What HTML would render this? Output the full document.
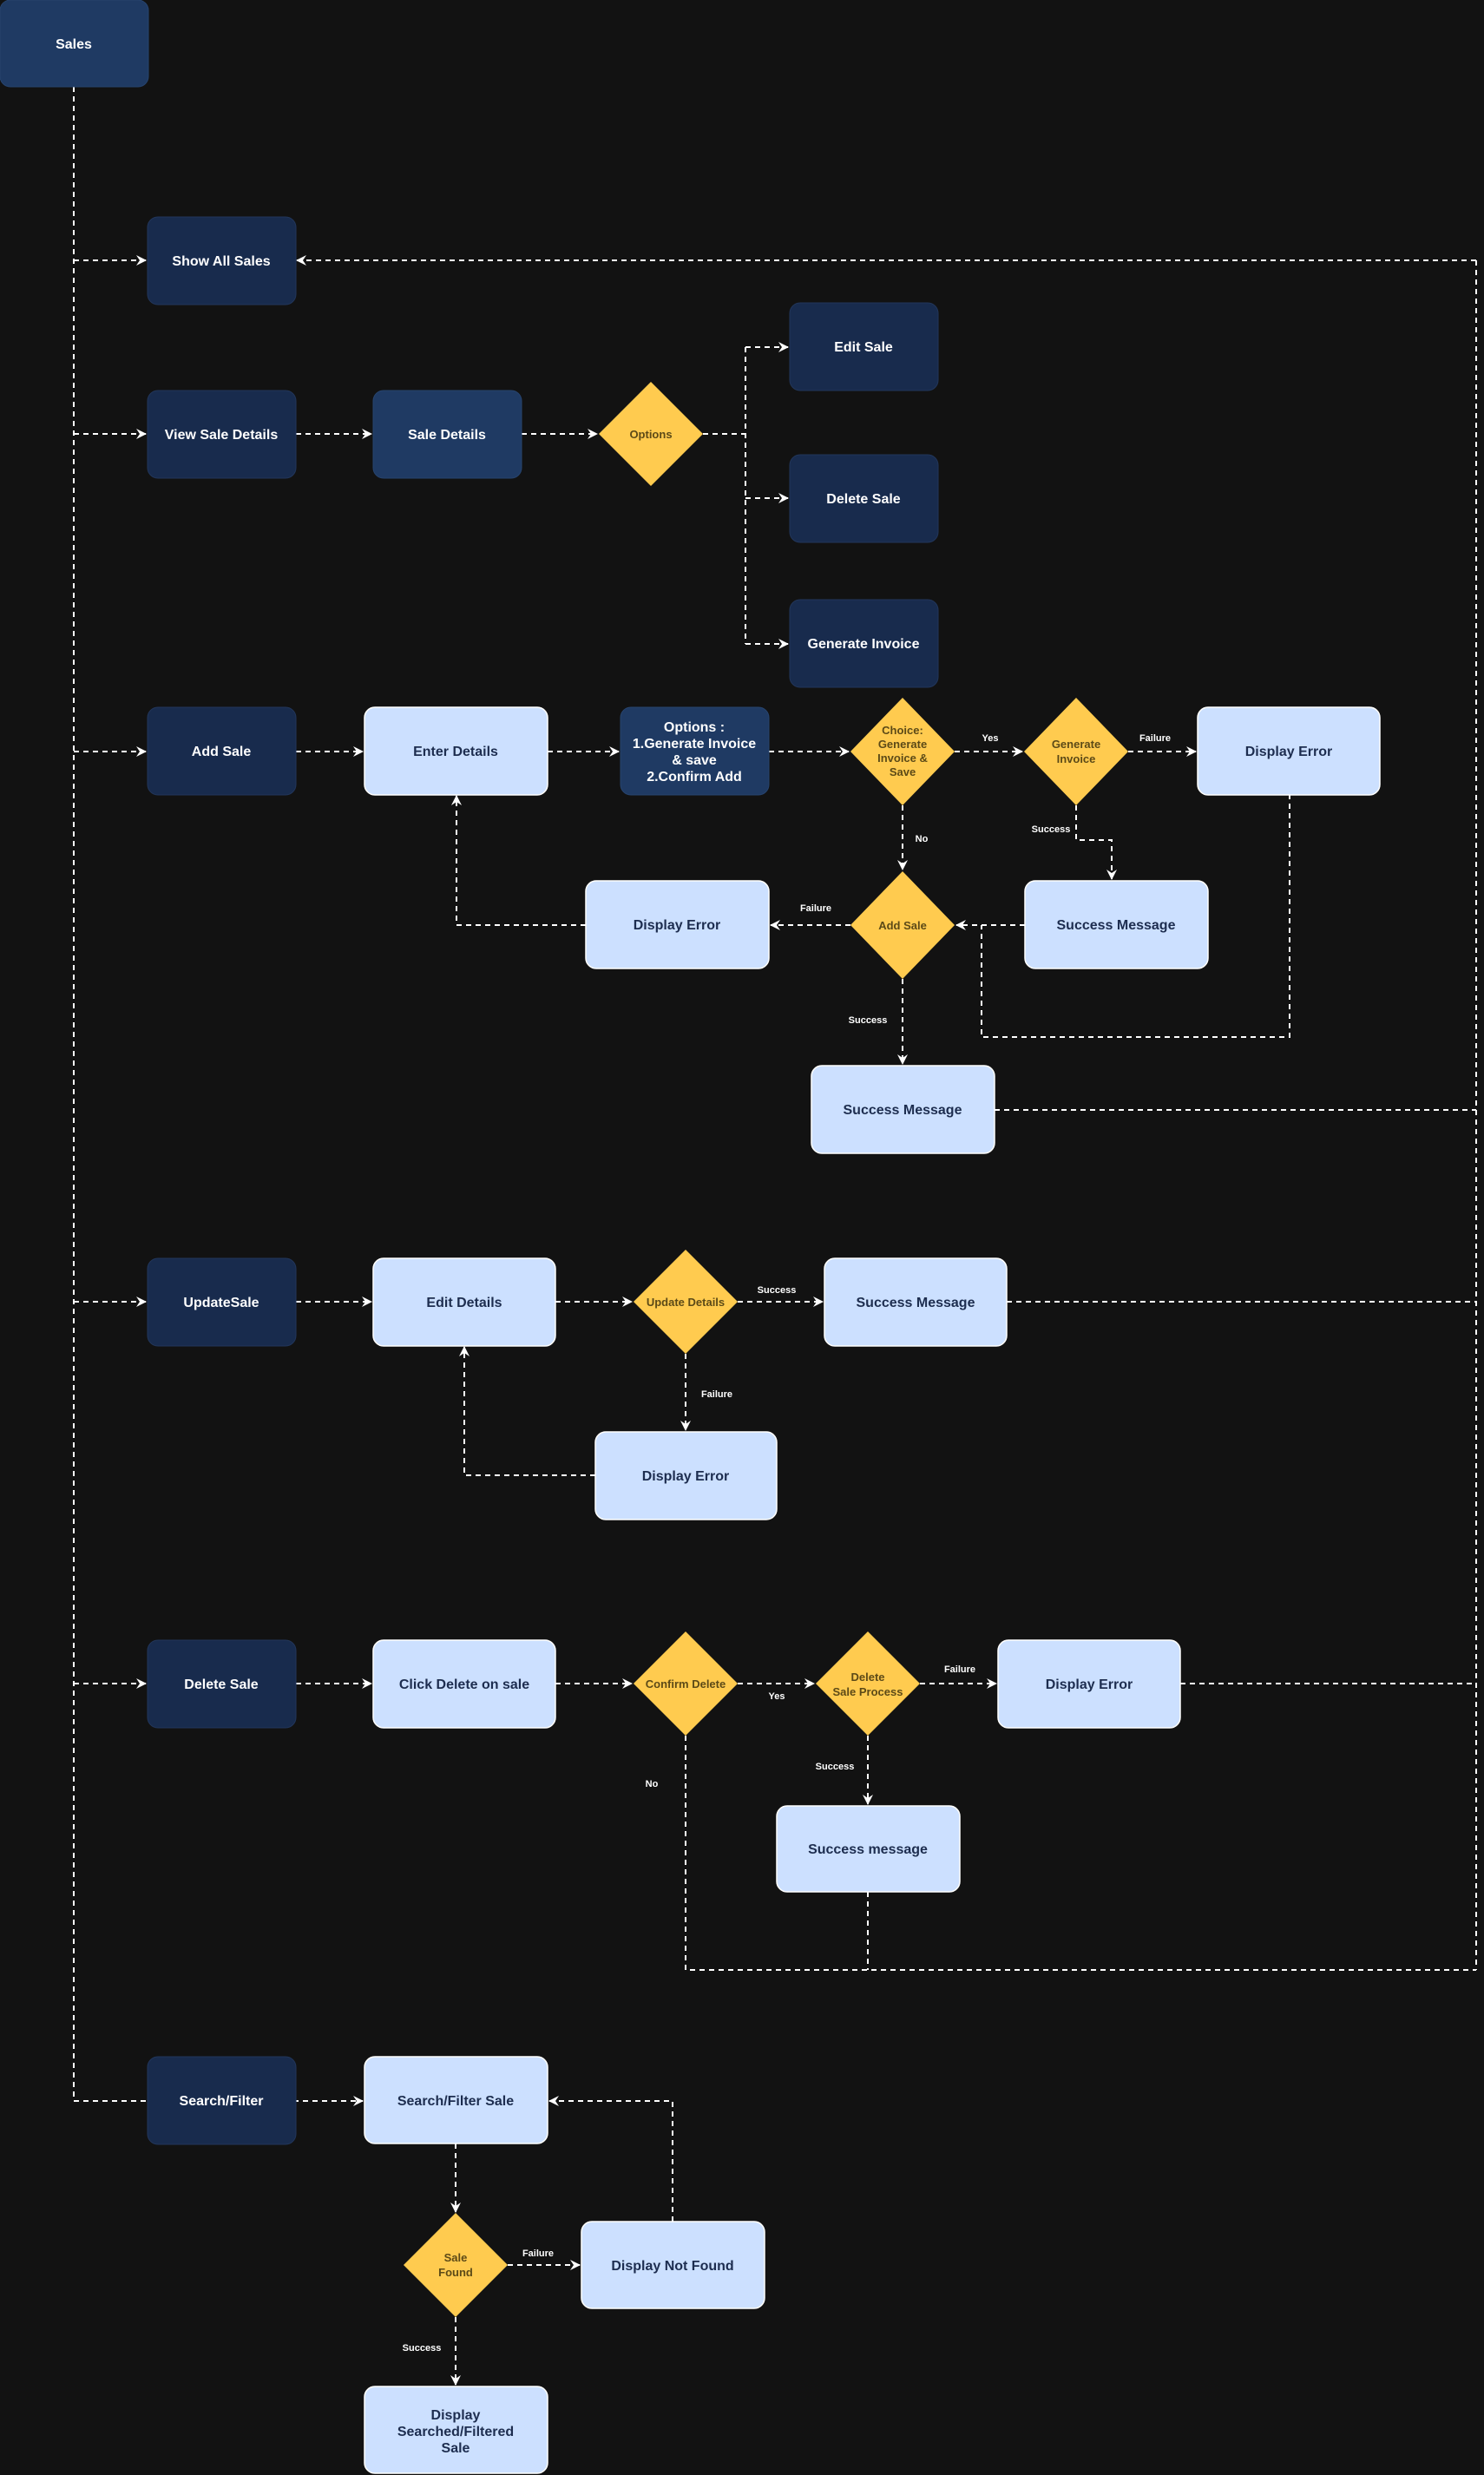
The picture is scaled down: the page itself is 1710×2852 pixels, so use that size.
<!DOCTYPE html>
<html><head><meta charset="utf-8"><style>
html,body{margin:0;padding:0;background:#121212;}
svg{display:block;}
text{font-family:"Liberation Sans",sans-serif;}
.bt{font-size:16px;font-weight:bold;fill:#ffffff;text-anchor:middle;}
.lt{font-size:16px;font-weight:bold;fill:#1d2d4f;text-anchor:middle;}
.dt{font-size:13px;font-weight:bold;fill:#5c4a17;text-anchor:middle;}
.lb{font-size:11px;font-weight:bold;fill:#ffffff;text-anchor:middle;}
.ln{fill:none;stroke:#ffffff;stroke-width:2;stroke-dasharray:6 5;}
.d1{fill:#182b4d;stroke:#22365a;}
.d2{fill:#1f3a63;stroke:#27446e;}
.l{fill:#cce0ff;stroke:#ffffff;stroke-width:1.5;}
.y{fill:#ffcb4f;}
</style></head><body>
<svg width="1710" height="2852" viewBox="0 0 1710 2852" xmlns="http://www.w3.org/2000/svg">
<defs><marker id="a" viewBox="0 0 12 12" refX="11" refY="6" markerWidth="12" markerHeight="12" markerUnits="userSpaceOnUse" orient="auto"><path d="M0,0 L12,6 L0,12 L4,6 Z" fill="#fff"/></marker></defs>

<!-- connectors -->
<path class="ln" d="M85,100 V2421"/>
<path class="ln" d="M85,300 H168" marker-end="url(#a)"/>
<path class="ln" d="M85,500 H168" marker-end="url(#a)"/>
<path class="ln" d="M85,866 H168" marker-end="url(#a)"/>
<path class="ln" d="M85,1500 H168" marker-end="url(#a)"/>
<path class="ln" d="M85,1940 H168" marker-end="url(#a)"/>
<path class="ln" d="M85,2421 H418" marker-end="url(#a)"/>
<path class="ln" d="M1701,300 H342" marker-end="url(#a)"/>
<path class="ln" d="M1701,300 V2270"/>
<path class="ln" d="M341,500 H428" marker-end="url(#a)"/>
<path class="ln" d="M601,500 H688" marker-end="url(#a)"/>
<path class="ln" d="M810,500 H859"/>
<path class="ln" d="M859,400 V742"/>
<path class="ln" d="M859,400 H908" marker-end="url(#a)"/>
<path class="ln" d="M859,574 H908" marker-end="url(#a)"/>
<path class="ln" d="M859,742 H908" marker-end="url(#a)"/>
<path class="ln" d="M341,866 H418" marker-end="url(#a)"/>
<path class="ln" d="M631,866 H713" marker-end="url(#a)"/>
<path class="ln" d="M886,866 H978" marker-end="url(#a)"/>
<path class="ln" d="M1100,866 H1178" marker-end="url(#a)"/>
<path class="ln" d="M1300,866 H1378" marker-end="url(#a)"/>
<path class="ln" d="M1040,928 V1002" marker-end="url(#a)"/>
<path class="ln" d="M1240,928 V968 H1281 V1013" marker-end="url(#a)"/>
<path class="ln" d="M1181,1066 H1102" marker-end="url(#a)"/>
<path class="ln" d="M1486,915 V1195 H1131 V1066"/>
<path class="ln" d="M980,1066 H888" marker-end="url(#a)"/>
<path class="ln" d="M675,1066 H526 V917" marker-end="url(#a)"/>
<path class="ln" d="M1040,1128 V1226" marker-end="url(#a)"/>
<path class="ln" d="M1146,1279 H1701"/>
<path class="ln" d="M341,1500 H428" marker-end="url(#a)"/>
<path class="ln" d="M640,1500 H728" marker-end="url(#a)"/>
<path class="ln" d="M850,1500 H948" marker-end="url(#a)"/>
<path class="ln" d="M1160,1500 H1701"/>
<path class="ln" d="M790,1560 V1648" marker-end="url(#a)"/>
<path class="ln" d="M686,1700 H535 V1552" marker-end="url(#a)"/>
<path class="ln" d="M341,1940 H428" marker-end="url(#a)"/>
<path class="ln" d="M640,1940 H728" marker-end="url(#a)"/>
<path class="ln" d="M850,1940 H938" marker-end="url(#a)"/>
<path class="ln" d="M1060,1940 H1148" marker-end="url(#a)"/>
<path class="ln" d="M1360,1940 H1701"/>
<path class="ln" d="M1000,2000 V2079" marker-end="url(#a)"/>
<path class="ln" d="M790,2000 V2270 H1701"/>
<path class="ln" d="M1000,2180 V2270"/>
<path class="ln" d="M525,2470 V2549" marker-end="url(#a)"/>
<path class="ln" d="M585,2610 H668" marker-end="url(#a)"/>
<path class="ln" d="M525,2670 V2748" marker-end="url(#a)"/>
<path class="ln" d="M775,2560 V2421 H633" marker-end="url(#a)"/>

<!-- nodes -->
<rect class="d2" x="0" y="0" width="171" height="100" rx="12"/><text class="bt" x="85" y="56">Sales</text>
<rect class="d1" x="170" y="250" width="171" height="101" rx="12"/><text class="bt" x="255" y="306">Show All Sales</text>
<rect class="d1" x="170" y="450" width="171" height="101" rx="12"/><text class="bt" x="255" y="506">View Sale Details</text>
<rect class="d2" x="430" y="450" width="171" height="101" rx="12"/><text class="bt" x="515" y="506">Sale Details</text>
<polygon class="y" points="750,440 810,500 750,560 690,500"/><text class="dt" x="750" y="505">Options</text>
<rect class="d1" x="910" y="349" width="171" height="101" rx="12"/><text class="bt" x="995" y="405">Edit Sale</text>
<rect class="d1" x="910" y="524" width="171" height="101" rx="12"/><text class="bt" x="995" y="580">Delete Sale</text>
<rect class="d1" x="910" y="691" width="171" height="101" rx="12"/><text class="bt" x="995" y="747">Generate Invoice</text>

<rect class="d1" x="170" y="815" width="171" height="101" rx="12"/><text class="bt" x="255" y="871">Add Sale</text>
<rect class="l" x="420" y="815" width="211" height="101" rx="12"/><text class="lt" x="525" y="871">Enter Details</text>
<rect class="d2" x="715" y="815" width="171" height="101" rx="12"/>
<text class="bt" x="800" y="843">Options :</text><text class="bt" x="800" y="862">1.Generate Invoice</text><text class="bt" x="800" y="881">&amp; save</text><text class="bt" x="800" y="900">2.Confirm Add</text>
<polygon class="y" points="1040,804 1100,866 1040,928 980,866"/>
<text class="dt" x="1040" y="846">Choice:</text><text class="dt" x="1040" y="862">Generate</text><text class="dt" x="1040" y="878">Invoice &amp;</text><text class="dt" x="1040" y="894">Save</text>
<polygon class="y" points="1240,804 1300,866 1240,928 1180,866"/>
<text class="dt" x="1240" y="862">Generate</text><text class="dt" x="1240" y="879">Invoice</text>
<rect class="l" x="1380" y="815" width="210" height="101" rx="12"/><text class="lt" x="1485" y="871">Display Error</text>
<polygon class="y" points="1040,1004 1100,1066 1040,1128 980,1066"/><text class="dt" x="1040" y="1071">Add Sale</text>
<rect class="l" x="675" y="1015" width="211" height="101" rx="12"/><text class="lt" x="780" y="1071">Display Error</text>
<rect class="l" x="1181" y="1015" width="211" height="101" rx="12"/><text class="lt" x="1286" y="1071">Success Message</text>
<rect class="l" x="935" y="1228" width="211" height="101" rx="12"/><text class="lt" x="1040" y="1284">Success Message</text>
<text class="lb" x="1141" y="854">Yes</text><text class="lb" x="1331" y="854">Failure</text>
<text class="lb" x="1062" y="970">No</text><text class="lb" x="1211" y="959">Success</text>
<text class="lb" x="940" y="1050">Failure</text><text class="lb" x="1000" y="1179">Success</text>

<rect class="d1" x="170" y="1450" width="171" height="101" rx="12"/><text class="bt" x="255" y="1506">UpdateSale</text>
<rect class="l" x="430" y="1450" width="210" height="101" rx="12"/><text class="lt" x="535" y="1506">Edit Details</text>
<polygon class="y" points="790,1440 850,1500 790,1560 730,1500"/><text class="dt" x="790" y="1505">Update Details</text>
<rect class="l" x="950" y="1450" width="210" height="101" rx="12"/><text class="lt" x="1055" y="1506">Success Message</text>
<rect class="l" x="686" y="1650" width="209" height="101" rx="12"/><text class="lt" x="790" y="1706">Display Error</text>
<text class="lb" x="895" y="1490">Success</text><text class="lb" x="826" y="1610">Failure</text>

<rect class="d1" x="170" y="1890" width="171" height="101" rx="12"/><text class="bt" x="255" y="1946">Delete Sale</text>
<rect class="l" x="430" y="1890" width="210" height="101" rx="12"/><text class="lt" x="535" y="1946">Click Delete on sale</text>
<polygon class="y" points="790,1880 850,1940 790,2000 730,1940"/><text class="dt" x="790" y="1945">Confirm Delete</text>
<polygon class="y" points="1000,1880 1060,1940 1000,2000 940,1940"/>
<text class="dt" x="1000" y="1937">Delete</text><text class="dt" x="1000" y="1954">Sale Process</text>
<rect class="l" x="1150" y="1890" width="210" height="101" rx="12"/><text class="lt" x="1255" y="1946">Display Error</text>
<rect class="l" x="895" y="2081" width="211" height="99" rx="12"/><text class="lt" x="1000" y="2136">Success message</text>
<text class="lb" x="895" y="1958">Yes</text><text class="lb" x="1106" y="1927">Failure</text>
<text class="lb" x="962" y="2039">Success</text><text class="lb" x="751" y="2059">No</text>

<rect class="d1" x="170" y="2370" width="171" height="101" rx="12"/><text class="bt" x="255" y="2426">Search/Filter</text>
<rect class="l" x="420" y="2370" width="211" height="100" rx="12"/><text class="lt" x="525" y="2426">Search/Filter Sale</text>
<polygon class="y" points="525,2550 585,2610 525,2670 465,2610"/>
<text class="dt" x="525" y="2606">Sale</text><text class="dt" x="525" y="2623">Found</text>
<rect class="l" x="670" y="2560" width="211" height="100" rx="12"/><text class="lt" x="775" y="2616">Display Not Found</text>
<rect class="l" x="420" y="2750" width="211" height="100" rx="12"/>
<text class="lt" x="525" y="2788">Display</text><text class="lt" x="525" y="2807">Searched/Filtered</text><text class="lt" x="525" y="2826">Sale</text>
<text class="lb" x="620" y="2600">Failure</text><text class="lb" x="486" y="2709">Success</text>
</svg>
</body></html>
